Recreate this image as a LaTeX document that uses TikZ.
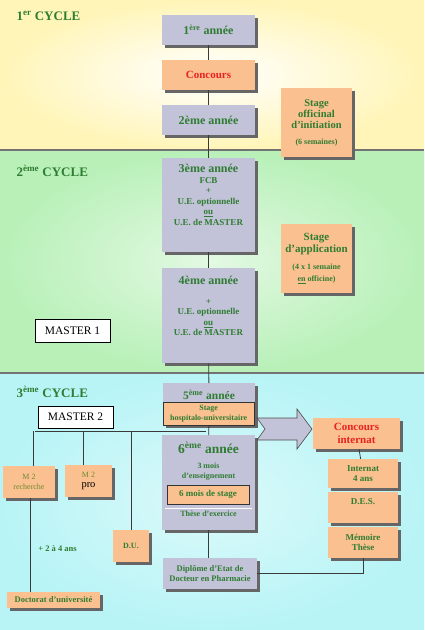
\documentclass[tikz,border=0pt]{standalone}
\usepackage{fontspec}
\setmainfont{Liberation Serif}
\usepackage{xcolor}
\definecolor{cGreen}{HTML}{2F7D32}
\definecolor{cOlive}{HTML}{6E8B2E}
\definecolor{cRed}{HTML}{E8231E}
\definecolor{cBox}{HTML}{C2C2D8}
\definecolor{cPeach}{HTML}{FAC08F}
\definecolor{cLine}{HTML}{3A3A3A}
\definecolor{cBandA}{HTML}{FFF5B8}
\definecolor{cBandB}{HTML}{B8F0B8}
\definecolor{cBandC}{HTML}{B8F4F6}
\usetikzlibrary{positioning,shadows,calc}
\tikzset{
  box-base/.style={draw=none,align=center,inner sep=1pt,
    drop shadow={shadow xshift=2.5pt,shadow yshift=-2.5pt,fill=black!60,opacity=1}},
  box-year/.style={box-base,fill=cBox},
  box-stage/.style={box-base,fill=cPeach},
  box-inner/.style={draw=black!80,fill=cPeach,line width=0.8pt,align=center,inner sep=1pt},
  box-master/.style={draw=black,fill=white,line width=0.6pt,
    font=\fontsize{11.5}{13}\selectfont},
  txt-year/.style={text=cGreen,align=center,font=\bfseries\fontsize{12}{13}\selectfont},
  txt-small/.style={text=cGreen,align=center,font=\bfseries\fontsize{9}{10.5}\selectfont},
  txt-tiny/.style={text=cGreen,align=center,font=\bfseries\fontsize{8}{10}\selectfont},
  txt-cycle/.style={text=cGreen,anchor=west,font=\bfseries\fontsize{13}{14}\selectfont},
  link/.style={draw=cLine,line width=0.8pt},
  divider/.style={draw=black!55,line width=2pt},
}

\begin{document}
\begin{tikzpicture}[x=1pt,y=-1pt]
  \useasboundingbox (0,0) rectangle (424,630);
  % bands
  \shade[inner color=white,outer color=cBandA] (0,0) rectangle (424,150);
  \shade[inner color=white!60!cBandB,outer color=cBandB] (0,150) rectangle (424,373);
  \shade[inner color=white!50!cBandC,outer color=cBandC] (0,373) rectangle (424,630);
  \draw[divider] (0,150) -- (424,150);
  \draw[divider] (0,373) -- (424,373);

  \node[txt-cycle] (c1) at (13,16) {1\textsuperscript{er} CYCLE};
  \node[txt-cycle] (c2) at (13,171) {2\textsuperscript{ème} CYCLE};
  \node[txt-cycle] (c3) at (13,392) {3\textsuperscript{ème} CYCLE};

  % 1er cycle
  \node[box-year,txt-year,minimum width=93pt,minimum height=30pt]
    (y1) at (208.5,30) {1\textsuperscript{ère} année};
  \node[box-stage,txt-year,text=cRed,font=\bfseries\fontsize{11}{12}\selectfont,
    minimum width=93pt,minimum height=30pt] (conc) at (208.5,75) {Concours};
  \node[box-year,txt-year,minimum width=93pt,minimum height=30pt]
    (y2) at (208.5,120) {2ème année};
  \node[box-stage,txt-small,font=\bfseries\fontsize{10.5}{11}\selectfont,
    minimum width=71pt,minimum height=69pt] (so) at (316.5,122.5)
    {Stage\\officinal\\d’initiation\\[5pt]{\fontsize{8}{8.5}\selectfont(6 semaines)}};

  % 2eme cycle
  \node[box-year,minimum width=93pt,minimum height=94pt,anchor=north] (y3) at (208.5,158) {};
  \node[txt-small,anchor=north] (y3t) at ([yshift=-3pt]y3.north)
    {{\fontsize{12}{13}\selectfont 3ème année}\\FCB\\+\\U.E. optionnelle\\\underline{ou}\\U.E. de MASTER};
  \node[box-year,minimum width=93pt,minimum height=95pt,anchor=north] (y4) at (208.5,268) {};
  \node[txt-small,anchor=north] (y4t) at ([yshift=-5pt]y4.north)
    {{\fontsize{12}{13}\selectfont 4ème année}\\[9pt]+\\U.E. optionnelle\\\underline{ou}\\U.E. de MASTER};
  \node[box-stage,txt-small,font=\bfseries\fontsize{11}{12}\selectfont,
    minimum width=71pt,minimum height=69pt] (sa) at (316.5,258.5)
    {Stage\\d’application\\[5pt]{\fontsize{8}{9.5}\selectfont(4 x 1 semaine}\\
     {\fontsize{8}{9.5}\selectfont\underline{en} officine)}};
  \node[box-master,minimum width=75pt,minimum height=23pt] (m1) at (72.5,330.5) {MASTER 1};

  % 3eme cycle
  \node[box-year,minimum width=92pt,minimum height=42pt,anchor=north] (y5) at (209,383) {};
  \node[txt-year,font=\bfseries\fontsize{11.5}{12}\selectfont,anchor=north]
    (y5t) at ([yshift=-3pt]y5.north) {5\textsuperscript{ème} année};
  \node[box-inner,txt-tiny,font=\bfseries\fontsize{8}{9.5}\selectfont,
    minimum width=91pt,minimum height=23pt,anchor=south west]
    (shu) at (y5.south west) {Stage\\hospitalo-universitaire};

  \node[box-year,minimum width=93pt,minimum height=95pt,anchor=north] (y6) at (208.5,435) {};
  \node[txt-year,font=\bfseries\fontsize{13.5}{14}\selectfont,anchor=north]
    (y6t) at ([yshift=-3pt]y6.north) {6\textsuperscript{ème} année};
  \node[txt-tiny] (y6e) at (208.5,472) {3 mois\\d’enseignement};
  \node[box-inner,txt-small,minimum width=82pt,minimum height=19pt]
    (sta) at (208,494.5) {6 mois de stage};
  \draw[white,line width=0.8pt] ($(y6.south west)+(3,-22)$) -- ($(y6.south east)+(-3,-22)$);
  \node[txt-tiny] (the) at (208.5,514) {Thèse d’exercice};

  \node[box-year,txt-tiny,font=\bfseries\fontsize{8.5}{10.5}\selectfont,
    minimum width=94pt,minimum height=31pt] (dip) at (210,573.5)
    {Diplôme d’Etat de\\Docteur en Pharmacie};

  % big arrow
  \filldraw[fill=cBox,draw=black!70,line width=0.6pt]
    (257,418) -- (297,418) -- (297,409) -- (312,429) -- (297,449)
    -- (297,440) -- (257,440) -- (265,429) -- cycle;

  \node[box-stage,txt-year,text=cRed,font=\bfseries\fontsize{11}{12.5}\selectfont,
    minimum width=87pt,minimum height=31pt] (ci) at (356.5,433.5) {Concours\\internat};
  \node[box-stage,txt-small,minimum width=70pt,minimum height=29pt]
    (int) at (363,473.5) {Internat\\4 ans};
  \node[box-stage,minimum width=70pt,minimum height=31pt] (des) at (363,507.5) {};
  \node[txt-small,anchor=north] (dest) at ([yshift=-3pt]des.north) {D.E.S.};
  \node[box-stage,txt-small,minimum width=70pt,minimum height=31pt]
    (mem) at (363,542.5) {Mémoire\\Thèse};

  \node[box-master,minimum width=75pt,minimum height=22pt] (m2) at (75.5,417) {MASTER 2};
  \node[box-stage,text=cOlive,align=center,font=\fontsize{8}{10}\selectfont,
    minimum width=52pt,minimum height=32pt] (m2r) at (29,482) {M 2\\recherche};
  \node[box-stage,text=cOlive,align=center,font=\fontsize{8}{10}\selectfont,
    minimum width=47pt,minimum height=32pt] (m2p) at (88.5,481)
    {M 2\\{\color{black}\fontsize{10.5}{11}\selectfont pro}};
  \node[box-stage,txt-tiny,minimum width=36pt,minimum height=32pt] (du) at (131,546) {D.U.};
  \node[box-stage,txt-tiny,font=\bfseries\fontsize{8.5}{10}\selectfont,
    minimum width=93pt,minimum height=16pt] (doc) at (53.5,600) {Doctorat d’université};
  \node[txt-small,font=\bfseries\fontsize{8.5}{10}\selectfont] (ans) at (57.5,549) {+ 2 à 4 ans};

  % connectors
  \draw[link] (y1) -- (conc);
  \draw[link] (conc) -- (y2);
  \draw[link] (y2) -- (y3);
  \draw[link] (y3) -- (y4);
  \draw[link] (y4) -- (y5);
  \draw[link] (y5) -- (y6);
  \draw[link] (y6.south) -- (y6.south |- dip.north);
  \draw[link] (ci) -- (int);
  \draw[link] (mem.south) |- (dip.east);

  \coordinate (mw) at (35,431);
  \coordinate (me) at (206,431);
  \draw[link] (mw) -- (me);
  \draw[link] ([xshift=4pt]m2r.north) -- ([xshift=4pt]m2r.north |- mw);
  \draw[link] ([xshift=-5pt]m2p.north) -- ([xshift=-5pt]m2p.north |- mw);
  \draw[link] (du.north) -- (du.north |- mw);
  \draw[link] ([xshift=1pt]m2r.south) -- ([xshift=1pt]m2r.south |- doc.north);
\end{tikzpicture}
\end{document}
